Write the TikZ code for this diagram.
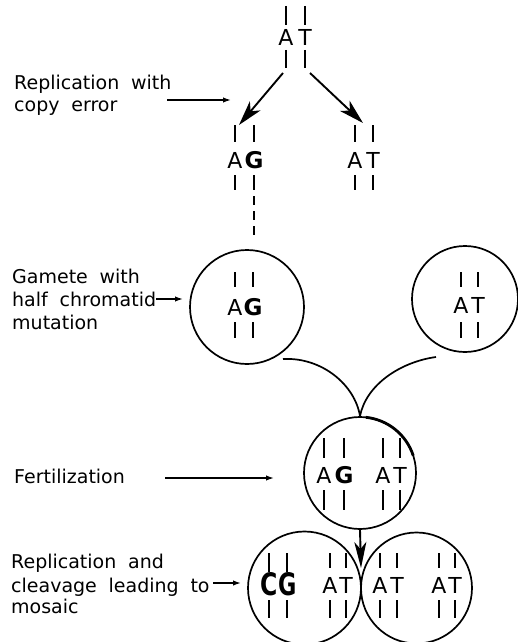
\documentclass[tikz,border=0pt]{standalone}
\usepackage{fontspec}
\setmainfont{DejaVu Sans}
\newfontfamily\lblfont[WordSpace=1.95]{DejaVu Sans}
\usetikzlibrary{arrows.meta}
\newcommand\strandline[3]{\draw[strandstyle] (#1,#2) -- (#1,#3);}
\begin{document}
\begin{tikzpicture}[x=1pt,y=-1pt,
  lbl/.style={font=\lblfont\fontsize{19}{22}\selectfont, anchor=base west, inner sep=0},
  basel/.style={font=\fontsize{22}{22}\selectfont, inner sep=0},
  mut/.style={font=\bfseries\fontsize{23}{23}\selectfont, inner sep=0},
  mutbig/.style={font=\bfseries\fontsize{31}{31}\selectfont, inner sep=0},
  strandstyle/.style={line width=1.8pt},
  cell/.style={circle, draw, line width=1.7pt, inner sep=0},
  bigarrow/.style={line width=1.9pt, -{Stealth[length=25pt,width=14pt,inset=7pt]}},
  downarrow/.style={line width=1.9pt, -{Stealth[length=26pt,width=12pt,inset=7pt]}},
  smallarrow/.style={line width=1.5pt, -{Latex[length=8pt,width=5.5pt]}},
  curve/.style={line width=1.7pt},
]
\useasboundingbox (0,0) rectangle (518,642);

% ---- top base pair
\node[basel] (tA) at (286,37) {A};
\node[basel] (tT) at (305,37) {T};
\strandline{286}{6}{25}\strandline{305}{6}{25}
\strandline{286}{50}{68}\strandline{305}{50}{68}

% ---- copies
\node[basel] (cA) at (235,160) {A};
\node[mut] (cG) at (254,160) {G};
\strandline{235}{125}{142}\strandline{254}{125}{142}
\strandline{235}{175}{190}\strandline{254}{175}{190}
\draw[strandstyle, dash pattern=on 9pt off 6pt] (254,196) -- (254,240);
\node[basel] (dA) at (355,160) {A};
\node[basel] (dT) at (373,160) {T};
\strandline{355}{125}{142}\strandline{373}{125}{142}
\strandline{355}{175}{190}\strandline{373}{175}{190}

\coordinate (s1) at (283,73); \coordinate (e1) at (239,125);
\coordinate (s2) at (310,73); \coordinate (e2) at (363,123);
\draw[bigarrow] (s1) -- (e1);
\draw[bigarrow] (s2) -- (e2);

% ---- label 1
\node[lbl] (l1a) at (14,89) {Replication with};
\node[lbl] (l1b) at (14,111) {copy error};
\coordinate (l1s) at (167,100); \coordinate (l1e) at (231,100);
\draw[smallarrow] (l1s) -- (l1e);

% ---- gametes
\node[cell, minimum size=114pt] (g1) at (247,307) {};
\node[basel] (gA) at (235,307) {A};
\node[mut] (gG) at (253,307) {G};
\strandline{235}{272}{287}\strandline{253}{272}{287}
\strandline{235}{322}{338}\strandline{253}{322}{338}

\node[cell, minimum size=106pt] (g2) at (465,299) {};
\node[basel] (hA) at (461,305) {A};
\node[basel] (hT) at (478,305) {T};
\strandline{461}{272}{287}\strandline{478}{272}{287}
\strandline{461}{322}{338}\strandline{478}{322}{338}

\node[lbl] (l2a) at (12,283) {Gamete with};
\node[lbl] (l2b) at (12,306) {half chromatid};
\node[lbl] (l2c) at (12,329) {mutation};
\coordinate (l2s) at (156,299); \coordinate (l2e) at (183,299);
\draw[smallarrow] (l2s) -- (l2e);

% ---- fertilization
\node[cell, minimum size=112pt] (f) at (360,473) {};
\coordinate (c1) at (283,359);
\coordinate (c2) at (436,357);
\draw[curve] (c1) .. controls (322,357) and (355,385) .. (f.north);
\draw[curve] (c2) .. controls (400,362) and (366,385) .. (f.north);
\draw[line width=2.8pt] (360,473) ++(-84:56) arc[start angle=-84, end angle=-18, radius=56];
\node[basel] (fA1) at (324,475) {A};
\node[mut] (fG) at (344,475) {G};
\node[basel] (fA2) at (383,475) {A};
\node[basel] (fT) at (400,475) {T};
\foreach \xx in {324,344,383,400}{\strandline{\xx}{438}{458}\strandline{\xx}{490}{510}}

\node[lbl] (l3) at (14,483) {Fertilization};
\coordinate (l3s) at (165,478); \coordinate (l3e) at (274,478);
\draw[smallarrow] (l3s) -- (l3e);

% ---- cleavage
\coordinate (mtip) at (361,568);
\draw[downarrow] (f.south) -- (mtip);
\node[cell, minimum size=113pt] (b1) at (304.5,588) {};
\node[cell, minimum size=111pt] (b2) at (416.5,588) {};
\node[mutbig] (bC) at (269,584) {\scalebox{0.76}[1]{C}};
\node[mutbig] (bG) at (288,584) {\scalebox{0.72}[1]{G}};
\node[basel] (bA1) at (330,585) {A};
\node[basel] (bT1) at (346,585) {T};
\node[basel] (bA2) at (380,585) {A};
\node[basel] (bT2) at (397,585) {T};
\node[basel] (bA3) at (439,585) {A};
\node[basel] (bT3) at (455,585) {T};
\strandline{269}{553}{572}\strandline{287}{553}{572}
\foreach \xx in {330,346,380,397,439,455}{\strandline{\xx}{553}{568}}
\foreach \xx in {269,287,330,346,380,397,439,455}{\strandline{\xx}{600}{618}}

\node[lbl] (l4a) at (11,568) {Replication and};
\node[lbl] (l4b) at (11,592) {cleavage leading to};
\node[lbl] (l4c) at (11,613) {mosaic};
\coordinate (l4s) at (213,583); \coordinate (l4e) at (241,583);
\draw[smallarrow] (l4s) -- (l4e);
\end{tikzpicture}
\end{document}
